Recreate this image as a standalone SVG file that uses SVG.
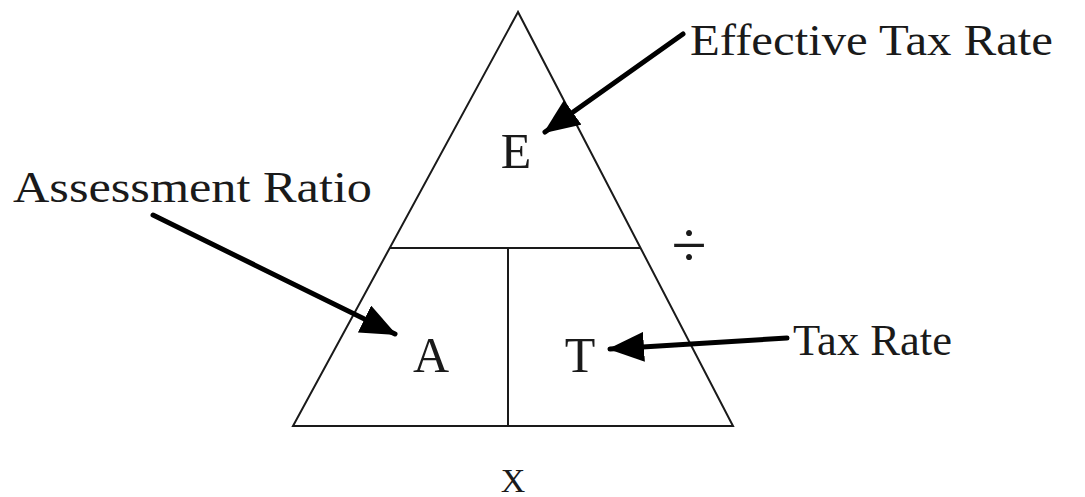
<svg xmlns="http://www.w3.org/2000/svg" width="1085" height="497" viewBox="0 0 1085 497">
<style>
  .edge { fill: none; stroke: #1a1a1a; stroke-width: 2; }
  .arrow { fill: none; stroke: #000; stroke-width: 5; stroke-linecap: round; }
  .t { font-family: "Liberation Serif", "Times New Roman", serif; fill: #1a1a1a; }
  .lbl { font-size: 44px; }
  .big { font-size: 50px; text-anchor: middle; }
</style>
<defs>
  <marker id="ah" markerUnits="userSpaceOnUse" viewBox="0 0 36 30" markerWidth="36" markerHeight="30" refX="34" refY="15" orient="auto">
    <path d="M0,0 L36,15 L0,30 z" fill="#000"/>
  </marker>
</defs>
<rect width="1085" height="497" fill="#fff"/>
<g id="triangle">
  <path class="edge" d="M518,12 L293,426 L733,426 Z"/>
  <line class="edge" x1="390" y1="248" x2="641" y2="248"/>
  <line class="edge" x1="508" y1="248" x2="508" y2="426"/>
</g>
<g id="node-E"><text class="t big" x="516" y="168">E</text></g>
<g id="node-A"><text class="t big" x="431" y="372">A</text></g>
<g id="node-T"><text class="t big" x="580" y="372">T</text></g>
<g id="op-divide"><text class="t" x="689" y="266" font-size="64" text-anchor="middle">÷</text></g>
<g id="op-times"><text class="t" x="513" y="492" font-size="34" text-anchor="middle">X</text></g>
<g id="label-effective"><text class="t lbl" x="690" y="55" textLength="363" lengthAdjust="spacingAndGlyphs">Effective Tax Rate</text></g>
<g id="label-assessment"><text class="t lbl" x="13" y="202" textLength="359" lengthAdjust="spacingAndGlyphs">Assessment Ratio</text></g>
<g id="label-taxrate"><text class="t lbl" x="793" y="355" textLength="159" lengthAdjust="spacingAndGlyphs">Tax Rate</text></g>
<g id="connectors">
  <line class="arrow" x1="683" y1="34" x2="545" y2="132" marker-end="url(#ah)"/>
  <line class="arrow" x1="153" y1="215" x2="395" y2="334" marker-end="url(#ah)"/>
  <line class="arrow" x1="787" y1="338" x2="610" y2="349" marker-end="url(#ah)"/>
</g>
</svg>
